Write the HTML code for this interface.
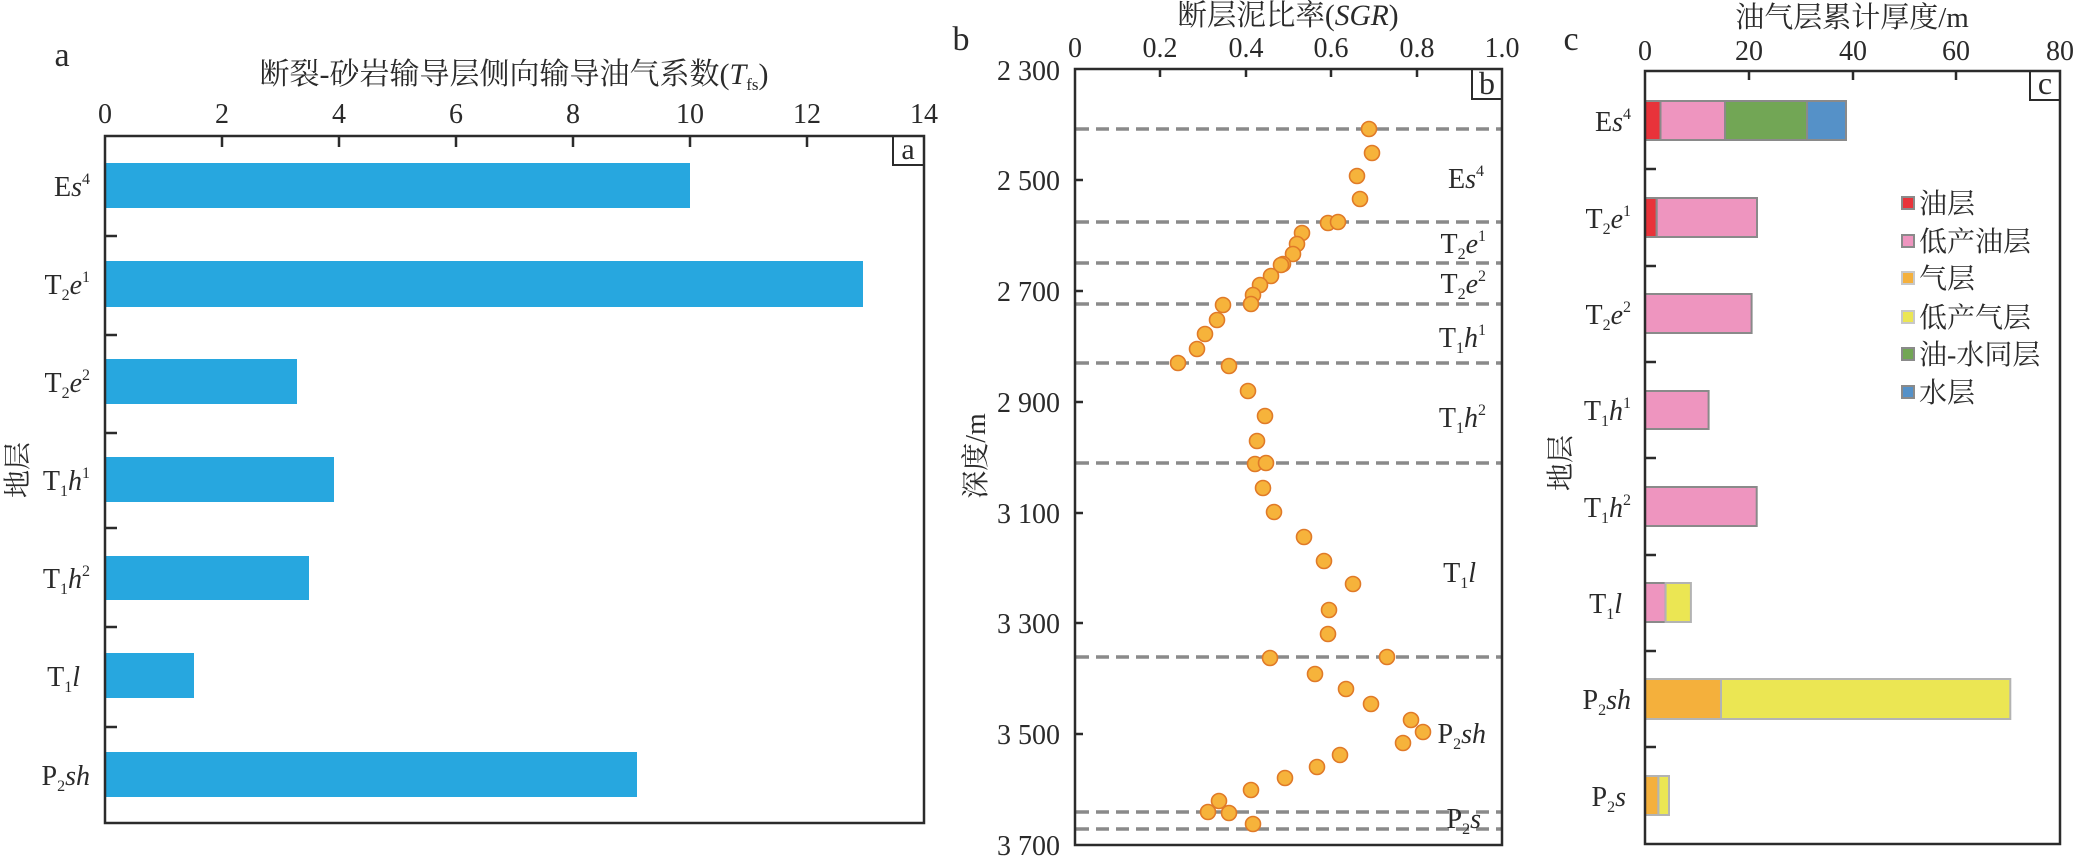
<!DOCTYPE html>
<html><head><meta charset="utf-8"><style>
html,body{margin:0;padding:0;background:#fff;}
svg{display:block;}
text{font-family:"Liberation Serif","Noto Serif CJK SC",serif;fill:#2a2a2a;}
</style></head><body>
<svg width="2075" height="864" viewBox="0 0 2075 864" xmlns="http://www.w3.org/2000/svg">
<!-- ===== Panel a ===== -->
<text x="62" y="66" font-size="34" text-anchor="middle">a</text>
<text x="514" y="84" font-size="30" text-anchor="middle">断裂-砂岩输导层侧向输导油气系数(<tspan font-style="italic">T</tspan><tspan font-size="17" dy="6">fs</tspan><tspan dy="-6">)</tspan></text>
<g font-size="28" text-anchor="middle">
<text x="105" y="123">0</text><text x="222" y="123">2</text><text x="339" y="123">4</text><text x="456" y="123">6</text><text x="573" y="123">8</text><text x="690" y="123">10</text><text x="807" y="123">12</text><text x="924" y="123">14</text>
</g>
<g fill="#27A7DF">
<rect x="106" y="163" width="584" height="45"/>
<rect x="106" y="261" width="757" height="46"/>
<rect x="106" y="359" width="191" height="45"/>
<rect x="106" y="457" width="228" height="45"/>
<rect x="106" y="556" width="203" height="44"/>
<rect x="106" y="653" width="88" height="45"/>
<rect x="106" y="752" width="531" height="45"/>
</g>
<g stroke="#2b2b2b" stroke-width="2.5" fill="none">
<rect x="105" y="136" width="819" height="687"/>
<path d="M222 136v11M339 136v11M456 136v11M573 136v11M690 136v11M807 136v11"/>
<path d="M105 236h12M105 335h12M105 433h12M105 528h12M105 627h12M105 727h12"/>
<rect x="893" y="136" width="31" height="29" stroke-width="2"/>
</g>
<text x="908" y="159" font-size="30" text-anchor="middle">a</text>
<g font-size="28" text-anchor="end">
<text x="90" y="196">E<tspan font-style="italic">s</tspan><tspan font-size="16" dy="-12">4</tspan></text>
<text x="90" y="294">T<tspan font-size="16" dy="6">2</tspan><tspan font-style="italic" dy="-6">e</tspan><tspan font-size="16" dy="-12">1</tspan></text>
<text x="90" y="392">T<tspan font-size="16" dy="6">2</tspan><tspan font-style="italic" dy="-6">e</tspan><tspan font-size="16" dy="-12">2</tspan></text>
<text x="90" y="490">T<tspan font-size="16" dy="6">1</tspan><tspan font-style="italic" dy="-6">h</tspan><tspan font-size="16" dy="-12">1</tspan></text>
<text x="90" y="588">T<tspan font-size="16" dy="6">1</tspan><tspan font-style="italic" dy="-6">h</tspan><tspan font-size="16" dy="-12">2</tspan></text>
<text x="80" y="686">T<tspan font-size="16" dy="6">1</tspan><tspan font-style="italic" dy="-6">l</tspan></text>
<text x="90" y="785">P<tspan font-size="16" dy="6">2</tspan><tspan font-style="italic" dy="-6">sh</tspan></text>
</g>
<text transform="translate(27,470) rotate(-90)" font-size="28" text-anchor="middle">地层</text>

<!-- ===== Panel b ===== -->
<text x="961" y="50" font-size="34" text-anchor="middle">b</text>
<text x="1288" y="25" font-size="29.5" text-anchor="middle">断层泥比率(<tspan font-style="italic">SGR</tspan>)</text>
<g font-size="28" text-anchor="middle">
<text x="1075" y="57">0</text><text x="1160" y="57">0.2</text><text x="1246" y="57">0.4</text><text x="1331" y="57">0.6</text><text x="1417" y="57">0.8</text><text x="1502" y="57">1.0</text>
</g>
<g font-size="28" text-anchor="end">
<text x="1060" y="80">2 300</text><text x="1060" y="190">2 500</text><text x="1060" y="301">2 700</text><text x="1060" y="412">2 900</text><text x="1060" y="523">3 100</text><text x="1060" y="633">3 300</text><text x="1060" y="744">3 500</text><text x="1060" y="855">3 700</text>
</g>
<text transform="translate(985,456) rotate(-90)" font-size="28" text-anchor="middle">深度/m</text>
<g stroke="#8a8a8a" stroke-width="3.5" stroke-dasharray="13 7" fill="none">
<path d="M1076 129H1501M1076 222H1501M1076 263H1501M1076 304H1501M1076 363H1501M1076 463H1501M1076 657H1501M1076 812H1501M1076 829H1501"/>
</g>
<g stroke="#2b2b2b" stroke-width="2.5" fill="none">
<rect x="1075" y="69" width="427" height="776"/>
<path d="M1160 69v8M1246 69v8M1331 69v8M1417 69v8"/>
<path d="M1075 180h8M1075 291h8M1075 402h8M1075 513h8M1075 623h8M1075 734h8"/>
<rect x="1472" y="69" width="30" height="30" stroke-width="2"/>
</g>
<text x="1487" y="94" font-size="32" text-anchor="middle">b</text>
<g fill="#F6B33B" stroke="#E07A28" stroke-width="1.6">
<circle cx="1369" cy="129" r="7.5"/><circle cx="1372" cy="153" r="7.5"/><circle cx="1357" cy="176" r="7.5"/><circle cx="1360" cy="199" r="7.5"/>
<circle cx="1328" cy="223" r="7.5"/><circle cx="1338" cy="222" r="7.5"/><circle cx="1302" cy="233" r="7.5"/><circle cx="1297" cy="244" r="7.5"/>
<circle cx="1293" cy="254" r="7.5"/><circle cx="1283" cy="264" r="7.5"/><circle cx="1281" cy="265" r="7.5"/><circle cx="1271" cy="276" r="7.5"/>
<circle cx="1260" cy="285" r="7.5"/><circle cx="1253" cy="295" r="7.5"/><circle cx="1251" cy="304" r="7.5"/><circle cx="1223" cy="305" r="7.5"/>
<circle cx="1217" cy="320" r="7.5"/><circle cx="1205" cy="334" r="7.5"/><circle cx="1197" cy="349" r="7.5"/><circle cx="1178" cy="363" r="7.5"/>
<circle cx="1229" cy="366" r="7.5"/><circle cx="1248" cy="391" r="7.5"/><circle cx="1265" cy="416" r="7.5"/><circle cx="1257" cy="441" r="7.5"/>
<circle cx="1255" cy="464" r="7.5"/><circle cx="1266" cy="463" r="7.5"/><circle cx="1263" cy="488" r="7.5"/><circle cx="1274" cy="512" r="7.5"/>
<circle cx="1304" cy="537" r="7.5"/><circle cx="1324" cy="561" r="7.5"/><circle cx="1353" cy="584" r="7.5"/><circle cx="1329" cy="610" r="7.5"/>
<circle cx="1328" cy="634" r="7.5"/><circle cx="1270" cy="658" r="7.5"/><circle cx="1387" cy="657" r="7.5"/><circle cx="1315" cy="674" r="7.5"/>
<circle cx="1346" cy="689" r="7.5"/><circle cx="1371" cy="704" r="7.5"/><circle cx="1411" cy="720" r="7.5"/><circle cx="1423" cy="732" r="7.5"/>
<circle cx="1403" cy="743" r="7.5"/><circle cx="1340" cy="755" r="7.5"/><circle cx="1317" cy="767" r="7.5"/><circle cx="1285" cy="778" r="7.5"/>
<circle cx="1251" cy="790" r="7.5"/><circle cx="1219" cy="801" r="7.5"/><circle cx="1208" cy="812" r="7.5"/><circle cx="1229" cy="813" r="7.5"/>
<circle cx="1253" cy="824" r="7.5"/>
</g>
<g font-size="28" text-anchor="end">
<text x="1484" y="188">E<tspan font-style="italic">s</tspan><tspan font-size="16" dy="-12">4</tspan></text>
<text x="1486" y="253">T<tspan font-size="16" dy="6">2</tspan><tspan font-style="italic" dy="-6">e</tspan><tspan font-size="16" dy="-12">1</tspan></text>
<text x="1486" y="293">T<tspan font-size="16" dy="6">2</tspan><tspan font-style="italic" dy="-6">e</tspan><tspan font-size="16" dy="-12">2</tspan></text>
<text x="1486" y="347">T<tspan font-size="16" dy="6">1</tspan><tspan font-style="italic" dy="-6">h</tspan><tspan font-size="16" dy="-12">1</tspan></text>
<text x="1486" y="427">T<tspan font-size="16" dy="6">1</tspan><tspan font-style="italic" dy="-6">h</tspan><tspan font-size="16" dy="-12">2</tspan></text>
<text x="1476" y="582">T<tspan font-size="16" dy="6">1</tspan><tspan font-style="italic" dy="-6">l</tspan></text>
<text x="1486" y="743">P<tspan font-size="16" dy="6">2</tspan><tspan font-style="italic" dy="-6">sh</tspan></text>
<text x="1481" y="828">P<tspan font-size="16" dy="6">2</tspan><tspan font-style="italic" dy="-6">s</tspan></text>
</g>

<!-- ===== Panel c ===== -->
<text x="1571" y="50" font-size="34" text-anchor="middle">c</text>
<text x="1852" y="27" font-size="29" text-anchor="middle">油气层累计厚度/m</text>
<g font-size="28" text-anchor="middle">
<text x="1645" y="60">0</text><text x="1749" y="60">20</text><text x="1853" y="60">40</text><text x="1956" y="60">60</text><text x="2060" y="60">80</text>
</g>
<!-- bars -->
<g stroke="#8a8a8a" stroke-width="2">
<rect x="1645" y="101" width="15.5" height="39" fill="#E8333A"/>
<rect x="1660.5" y="101" width="64.5" height="39" fill="#EE95BF"/>
<rect x="1725" y="101" width="82" height="39" fill="#72A655"/>
<rect x="1807" y="101" width="39" height="39" fill="#5591C8"/>
<rect x="1645" y="198" width="11.7" height="39" fill="#E8333A"/>
<rect x="1656.7" y="198" width="100.3" height="39" fill="#EE95BF"/>
<rect x="1645" y="294" width="106.6" height="39" fill="#EE95BF"/>
<rect x="1645" y="391" width="63.6" height="38" fill="#EE95BF"/>
<rect x="1645" y="487" width="111.7" height="39" fill="#EE95BF"/>
<rect x="1645" y="583" width="20.6" height="39" fill="#EE95BF"/>
</g>
<g stroke="#b3b3b3" stroke-width="2">
<rect x="1665.6" y="583" width="25.3" height="39" fill="#EBE653"/>
<rect x="1645" y="679" width="76" height="40" fill="#F4B03C"/>
<rect x="1721" y="679" width="289.3" height="40" fill="#EBE653"/>
<rect x="1645" y="776" width="13.4" height="39" fill="#F4B03C"/>
<rect x="1658.4" y="776" width="10.6" height="39" fill="#EBE653"/>
</g>
<g stroke="#2b2b2b" stroke-width="2.5" fill="none">
<rect x="1645" y="71" width="415" height="773"/>
<path d="M1749 71v9M1853 71v9M1956 71v9"/>
<path d="M1645 169h11M1645 266h11M1645 362h11M1645 458h11M1645 555h11M1645 651h11M1645 747h11"/>
<rect x="2030" y="71" width="30" height="29" stroke-width="2"/>
</g>
<text x="2045" y="94" font-size="32" text-anchor="middle">c</text>
<g font-size="28" text-anchor="end">
<text x="1631" y="131">E<tspan font-style="italic">s</tspan><tspan font-size="16" dy="-12">4</tspan></text>
<text x="1631" y="228">T<tspan font-size="16" dy="6">2</tspan><tspan font-style="italic" dy="-6">e</tspan><tspan font-size="16" dy="-12">1</tspan></text>
<text x="1631" y="324">T<tspan font-size="16" dy="6">2</tspan><tspan font-style="italic" dy="-6">e</tspan><tspan font-size="16" dy="-12">2</tspan></text>
<text x="1631" y="420">T<tspan font-size="16" dy="6">1</tspan><tspan font-style="italic" dy="-6">h</tspan><tspan font-size="16" dy="-12">1</tspan></text>
<text x="1631" y="517">T<tspan font-size="16" dy="6">1</tspan><tspan font-style="italic" dy="-6">h</tspan><tspan font-size="16" dy="-12">2</tspan></text>
<text x="1622" y="613">T<tspan font-size="16" dy="6">1</tspan><tspan font-style="italic" dy="-6">l</tspan></text>
<text x="1631" y="709">P<tspan font-size="16" dy="6">2</tspan><tspan font-style="italic" dy="-6">sh</tspan></text>
<text x="1626" y="806">P<tspan font-size="16" dy="6">2</tspan><tspan font-style="italic" dy="-6">s</tspan></text>
</g>
<text transform="translate(1570,463) rotate(-90)" font-size="28" text-anchor="middle">地层</text>
<!-- legend -->
<g stroke="#8a8a8a" stroke-width="2">
<rect x="1902" y="197" width="12" height="12" fill="#E8333A"/>
<rect x="1902" y="235" width="12" height="12" fill="#EE95BF"/>
<rect x="1902" y="272" width="12" height="12" fill="#F4B03C" stroke="#c8c8c8"/>
<rect x="1902" y="311" width="12" height="12" fill="#EBE653" stroke="#c8c8c8"/>
<rect x="1902" y="348" width="12" height="12" fill="#72A655"/>
<rect x="1902" y="386" width="12" height="12" fill="#5591C8"/>
</g>
<g font-size="28">
<text x="1919" y="213">油层</text>
<text x="1919" y="251">低产油层</text>
<text x="1919" y="288">气层</text>
<text x="1919" y="327">低产气层</text>
<text x="1919" y="364">油-水同层</text>
<text x="1919" y="402">水层</text>
</g>
</svg>
</body></html>
